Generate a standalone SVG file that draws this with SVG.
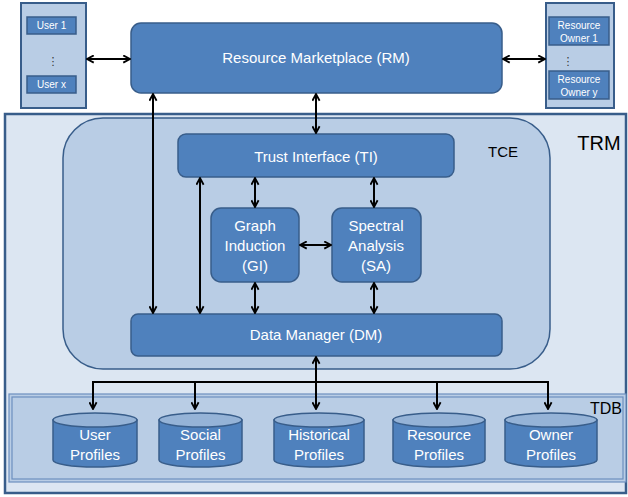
<svg xmlns="http://www.w3.org/2000/svg" width="628" height="497" viewBox="0 0 628 497">
  <defs>
    <marker id="arr" viewBox="0 0 10 10" refX="9" refY="5" markerWidth="9" markerHeight="9" markerUnits="userSpaceOnUse" orient="auto-start-reverse">
      <path d="M1.5,1 L9,5 L1.5,9" fill="none" stroke="#000" stroke-width="2"/>
    </marker>
  </defs>
  <style>
    .box { fill: #4f81bd; stroke: #385d8a; stroke-width: 1.5; }
    .panel { fill: #b9cde5; stroke: #385d8a; stroke-width: 2; }
    .lbl { font-family: "Liberation Sans", Arial, sans-serif; fill: #fff; text-anchor: middle; }
    .big { font-size: 15px; }
    .small { font-size: 10px; }
    .dark { font-family: "Liberation Sans", Arial, sans-serif; fill: #000; text-anchor: middle; }
    .cyl { fill: #4f81bd; stroke: #385d8a; stroke-width: 1.5; }
    .cyltop { fill: #95b3d7; stroke: #385d8a; stroke-width: 1.5; }
    .con { fill: none; stroke: #000; stroke-width: 2; }
  </style>

  <!-- TRM container -->
  <g id="trm">
    <rect x="5" y="114" width="621" height="379" fill="#dce6f2" stroke="#385d8a" stroke-width="2.5"/>
    <text class="dark" x="599" y="150" font-size="20">TRM</text>
  </g>

  <!-- TCE container -->
  <g id="tce">
    <rect x="63" y="118" width="487" height="251" rx="40" ry="40" fill="#b9cde5" stroke="#385d8a" stroke-width="1.5"/>
    <text class="dark" x="503" y="157" font-size="15">TCE</text>
  </g>

  <!-- TDB container -->
  <g id="tdb">
    <rect x="9" y="394" width="617" height="88" fill="#b9cde5" stroke="#6d8fbf" stroke-width="1.2"/>
    <rect x="12" y="397" width="611" height="82" fill="none" stroke="#6d8fbf" stroke-width="1.2"/>
    <text class="dark" x="606" y="414" font-size="16">TDB</text>
  </g>

  <!-- Users -->
  <g id="users">
    <rect class="panel" x="21" y="3" width="65" height="105"/>
    <rect class="box" x="27" y="17" width="49" height="17"/>
    <text class="lbl small" x="51.5" y="29">User 1</text>
    <text x="53" y="65" font-family="DejaVu Sans, sans-serif" font-size="11" fill="#333" text-anchor="middle">⋮</text>
    <rect class="box" x="27" y="76" width="49" height="17"/>
    <text class="lbl small" x="51.5" y="88">User x</text>
  </g>

  <!-- Resource owners -->
  <g id="owners">
    <rect class="panel" x="546" y="3" width="68" height="105"/>
    <rect class="box" x="549" y="17" width="60" height="28"/>
    <text class="lbl small" x="579" y="29">Resource</text>
    <text class="lbl small" x="579" y="42">Owner  1</text>
    <text x="568" y="65" font-family="DejaVu Sans, sans-serif" font-size="11" fill="#333" text-anchor="middle">⋮</text>
    <rect class="box" x="549" y="71" width="60" height="28"/>
    <text class="lbl small" x="579" y="83">Resource</text>
    <text class="lbl small" x="579" y="96">Owner  y</text>
  </g>

  <!-- Resource Marketplace -->
  <g id="rm">
    <rect class="box" x="131" y="23" width="371" height="70" rx="10" ry="10"/>
    <text class="lbl big" x="316" y="63">Resource Marketplace (RM)</text>
  </g>

  <!-- Trust Interface -->
  <g id="ti">
    <rect class="box" x="178" y="134" width="276" height="43" rx="8" ry="8"/>
    <text class="lbl big" x="316" y="162">Trust Interface (TI)</text>
  </g>

  <!-- Graph Induction -->
  <g id="gi">
    <rect class="box" x="211" y="208" width="88" height="74" rx="10" ry="10"/>
    <text class="lbl big" x="255" y="231">Graph</text>
    <text class="lbl big" x="255" y="251">Induction</text>
    <text class="lbl big" x="255" y="271">(GI)</text>
  </g>

  <!-- Spectral Analysis -->
  <g id="sa">
    <rect class="box" x="332" y="208" width="89" height="74" rx="10" ry="10"/>
    <text class="lbl big" x="376" y="231">Spectral</text>
    <text class="lbl big" x="376" y="251">Analysis</text>
    <text class="lbl big" x="376" y="271">(SA)</text>
  </g>

  <!-- Data Manager -->
  <g id="dm">
    <rect class="box" x="131" y="314" width="371" height="42" rx="7" ry="7"/>
    <text class="lbl big" x="316" y="340">Data Manager (DM)</text>
  </g>

  <!-- Profile stores -->
  <g id="user-profiles">
    <path class="cyl" d="M53,420 L53,460 A42,7 0 0 0 137,460 L137,420 Z"/>
    <ellipse class="cyltop" cx="95" cy="420" rx="42" ry="7"/>
    <text class="lbl big" x="95" y="440">User</text>
    <text class="lbl big" x="95" y="460">Profiles</text>
  </g>
  <g id="social-profiles">
    <path class="cyl" d="M159,420 L159,460 A41.5,7 0 0 0 242,460 L242,420 Z"/>
    <ellipse class="cyltop" cx="200.5" cy="420" rx="41.5" ry="7"/>
    <text class="lbl big" x="200.5" y="440">Social</text>
    <text class="lbl big" x="200.5" y="460">Profiles</text>
  </g>
  <g id="historical-profiles">
    <path class="cyl" d="M274,420 L274,460 A45,7 0 0 0 364,460 L364,420 Z"/>
    <ellipse class="cyltop" cx="319" cy="420" rx="45" ry="7"/>
    <text class="lbl big" x="319" y="440">Historical</text>
    <text class="lbl big" x="319" y="460">Profiles</text>
  </g>
  <g id="resource-profiles">
    <path class="cyl" d="M393,420 L393,460 A46,7 0 0 0 485,460 L485,420 Z"/>
    <ellipse class="cyltop" cx="439" cy="420" rx="46" ry="7"/>
    <text class="lbl big" x="439" y="440">Resource</text>
    <text class="lbl big" x="439" y="460">Profiles</text>
  </g>
  <g id="owner-profiles">
    <path class="cyl" d="M505,420 L505,460 A46,7 0 0 0 597,460 L597,420 Z"/>
    <ellipse class="cyltop" cx="551" cy="420" rx="46" ry="7"/>
    <text class="lbl big" x="551" y="440">Owner</text>
    <text class="lbl big" x="551" y="460">Profiles</text>
  </g>

  <!-- Connectors -->
  <g id="connectors" class="con">
    <line x1="87" y1="59" x2="130" y2="59" marker-start="url(#arr)" marker-end="url(#arr)"/>
    <line x1="503" y1="59" x2="545" y2="59" marker-start="url(#arr)" marker-end="url(#arr)"/>
    <line x1="316" y1="94" x2="316" y2="133" marker-start="url(#arr)" marker-end="url(#arr)"/>
    <line x1="153" y1="94" x2="153" y2="313" marker-start="url(#arr)" marker-end="url(#arr)"/>
    <line x1="200" y1="178" x2="200" y2="313" marker-start="url(#arr)" marker-end="url(#arr)"/>
    <line x1="255" y1="178" x2="255" y2="207" marker-start="url(#arr)" marker-end="url(#arr)"/>
    <line x1="374" y1="178" x2="374" y2="207" marker-start="url(#arr)" marker-end="url(#arr)"/>
    <line x1="300" y1="245" x2="331" y2="245" marker-start="url(#arr)" marker-end="url(#arr)"/>
    <line x1="255" y1="283" x2="255" y2="313" marker-start="url(#arr)" marker-end="url(#arr)"/>
    <line x1="374" y1="283" x2="374" y2="313" marker-start="url(#arr)" marker-end="url(#arr)"/>
    <line x1="316" y1="357" x2="316" y2="409" marker-start="url(#arr)" marker-end="url(#arr)"/>
    <path d="M93,382 L548,382"/>
    <line x1="93" y1="381" x2="93" y2="409" marker-end="url(#arr)"/>
    <line x1="195" y1="381" x2="195" y2="409" marker-end="url(#arr)"/>
    <line x1="437" y1="381" x2="437" y2="409" marker-end="url(#arr)"/>
    <line x1="548" y1="381" x2="548" y2="409" marker-end="url(#arr)"/>
  </g>
</svg>
